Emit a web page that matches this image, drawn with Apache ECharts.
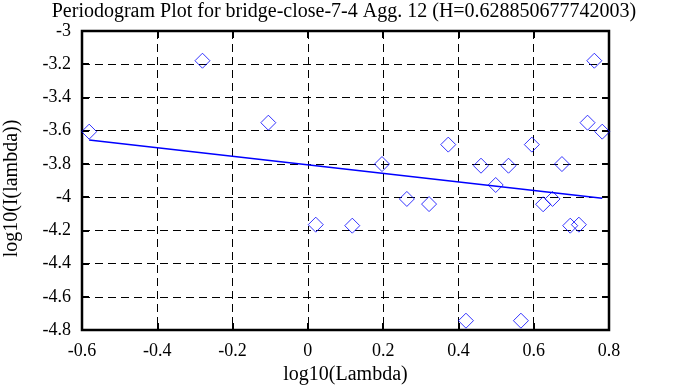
<!DOCTYPE html>
<html>
<head>
<meta charset="utf-8">
<script src="https://cdn.jsdelivr.net/npm/echarts@6/dist/echarts.min.js"></script>
<style>html,body{margin:0;padding:0;background:#fff}#c{width:688px;height:387px}</style>
</head>
<body>
<div id="c"></div>
<script>
var titleText = 'Periodogram Plot for bridge-close-7-4 Agg. 12 (H=0.628850677742003)';
var xName = 'log10(Lambda)';
var yName = 'log10(I(lambda))';
var pointsX = [-0.581, -0.280, -0.105, 0.021, 0.118, 0.197, 0.263, 0.322, 0.373, 0.420, 0.460, 0.499, 0.533, 0.566, 0.595, 0.625, 0.650, 0.675, 0.697, 0.720, 0.743, 0.761, 0.782];
var pointsY = [-3.606, -3.179, -3.552, -4.166, -4.172, -3.801, -4.011, -4.042, -3.684, -4.744, -3.811, -3.927, -3.811, -4.744, -3.684, -4.043, -4.011, -3.801, -4.172, -4.166, -3.552, -3.179, -3.606];
var fitX = [-0.581, 0.782];
var fitY = [-3.656, -4.007];
var xTicks = [-0.6, -0.4, -0.2, 0, 0.2, 0.4, 0.6, 0.8];
var yTicks = [-4.8, -4.6, -4.4, -4.2, -4, -3.8, -3.6, -3.4, -3.2, -3];

var font = 'Liberation Serif';
var chart = echarts.init(document.getElementById('c'));
var scatterData = pointsX.map(function (x, i) { return [x, pointsY[i]]; });
var fitData = fitX.map(function (x, i) { return [x, fitY[i]]; });
function fmt(v) { return String(Math.round(v * 10) / 10); }
var dash = { color: '#000', width: 1, type: [8, 5] };
var tick = { show: true, inside: true, length: 7, lineStyle: { color: '#000', width: 2 } };
chart.setOption({
  animation: false,
  title: { text: titleText, left: 'center', top: -3, textStyle: { fontFamily: font, fontWeight: 'normal', fontSize: 20, color: '#000' } },
  grid: { left: 82, right: 79, top: 31, bottom: 57, containLabel: false, outerBoundsMode: 'none', show: true, borderColor: '#000', borderWidth: 2.5, backgroundColor: 'transparent' },
  xAxis: [{
    type: 'value', min: xTicks[0], max: xTicks[xTicks.length - 1], interval: 0.2,
    name: xName, nameLocation: 'middle', nameGap: 35,
    nameTextStyle: { fontFamily: font, fontSize: 20, color: '#000' },
    axisLine: { show: false, onZero: false },
    axisTick: tick,
    axisLabel: { fontFamily: font, fontSize: 18, color: '#000', margin: 12, formatter: fmt },
    splitLine: { show: true, lineStyle: dash }
  }, {
    type: 'value', position: 'top', min: xTicks[0], max: xTicks[xTicks.length - 1], interval: 0.2,
    axisLine: { show: false, onZero: false }, axisLabel: { show: false }, splitLine: { show: false },
    axisTick: tick
  }],
  yAxis: [{
    type: 'value', min: yTicks[0], max: yTicks[yTicks.length - 1], interval: 0.2,
    name: yName, nameLocation: 'middle', nameGap: 60, nameRotate: 90,
    nameTextStyle: { fontFamily: font, fontSize: 20, color: '#000', padding: [0, 16, 0, 0] },
    axisLine: { show: false, onZero: false },
    axisTick: tick,
    axisLabel: { fontFamily: font, fontSize: 18, color: '#000', margin: 11, formatter: fmt },
    splitLine: { show: true, lineStyle: dash }
  }, {
    type: 'value', position: 'right', min: yTicks[0], max: yTicks[yTicks.length - 1], interval: 0.2,
    axisLine: { show: false, onZero: false }, axisLabel: { show: false }, splitLine: { show: false },
    axisTick: tick
  }],
  series: [{
    type: 'scatter', data: scatterData,
    symbol: 'path://M0,-1L1,0L0,1L-1,0Z', symbolSize: 15,
    itemStyle: { color: 'transparent', borderColor: '#0000ff', borderWidth: 1 }
  }, {
    type: 'line', data: fitData, symbol: 'none',
    lineStyle: { color: '#0000ff', width: 1.5 }
  }]
});
</script>
</body>
</html>
